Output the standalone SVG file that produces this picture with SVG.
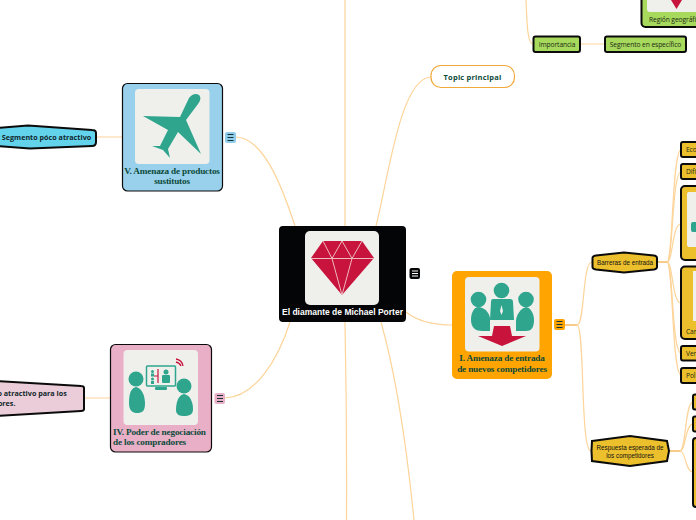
<svg xmlns="http://www.w3.org/2000/svg" width="696" height="520" viewBox="0 0 696 520">
<style>
.c{fill:none;stroke:#fdd49a;stroke-width:1.2}
.st{fill:none;stroke:#f8bb66;stroke-width:1.4}
.b{stroke:#0b0b0b;stroke-width:1.2}
.thick{stroke:#0b0b0b;stroke-width:2}
.im{fill:#eff0ec}
.t{fill:#2fa58e}
.r{fill:#c8143c}
.s{font-family:"Liberation Serif",serif;font-weight:700;font-size:9.200px;fill:#0c4a3a;text-anchor:middle;letter-spacing:-.16px}
.o{font-family:"Open Sans",sans-serif;font-weight:700;font-size:7.200px;fill:#10262a;text-anchor:middle}
.n{font-family:"Open Sans",sans-serif;font-size:6.700px;fill:#1d2a14;text-anchor:middle;letter-spacing:-.1px}
.h{font-family:"Liberation Sans",sans-serif;font-size:6.300px;fill:#111;text-anchor:middle}
.y{fill:#ecbf2d}
.g{fill:#a6d95c}
.m{fill:none;stroke:#17333a;stroke-width:1.100}
</style>
<g id="connectors">
<path class="c" d="M345 0V226M345 322Q347 420 346.500 520"/>
<path class="c" d="M376 226C388 180 400 78 431 77"/>
<path class="c" d="M295 226C280 180 262 138 236 137"/>
<path class="c" d="M290 322C278 360 255 397 225 398"/>
<path class="c" d="M406 312C416 320 430 325 452 325"/>
<path class="c" d="M381 322C396 375 406 440 414 520"/>
<path class="c" d="M526 0C527 20 527 44 533 44"/>
<path class="c" d="M96 137H122M84 398H110M580 44H605"/>
<path class="c" d="M577 325C585 325 582 262 592 262"/>
<path class="c" d="M577 325C585 325 580 451 591 451"/>
<path class="st" d="M565 325H577M657 262H667M669 451H680"/>
<path class="c" d="M667 262C673 262 672 150 681 150"/>
<path class="c" d="M667 262C673 262 672 172 681 172"/>
<path class="c" d="M667 262C673 262 672 224 681 224"/>
<path class="c" d="M667 262C673 262 672 303 681 303"/>
<path class="c" d="M667 262C673 262 672 353 681 353"/>
<path class="c" d="M667 262C673 262 672 375 681 375"/>
<path class="c" d="M680 451C686 451 685 402 693 402"/>
<path class="c" d="M680 451C686 451 685 424 693 424"/>
<path class="c" d="M680 451C686 451 685 472 693 472"/>
</g>
<g id="central">
<rect x="279" y="226" width="127" height="96" rx="4" fill="#040506"/>
<rect class="im" x="305" y="231" width="74" height="74" rx="5"/>
<path class="r" d="M323 241H362L374 258L342 295L311 258Z"/>
<path d="M311 258.500H374M323 241L332 258.500L342 295L352 258.500L362 241M332 258.500L342 241L352 258.500" fill="none" stroke="#eeb9bd" stroke-width="1"/>
<text x="342.500" y="315" font-family="Liberation Sans,sans-serif" font-weight="700" font-size="8.500" fill="#fff" text-anchor="middle">El diamante de Michael Porter</text>
</g>
<g id="central-menu">
<rect x="409.500" y="268" width="10.500" height="11" rx="2" fill="#040506"/>
<path d="M412 271H418M412 273.500H418M412 276H418" fill="none" stroke="#fff" stroke-width="1"/>
</g>
<g id="topic">
<rect x="431" y="65.500" width="83.500" height="22" rx="10" fill="#fff" stroke="#f2a93b" stroke-width="1.200"/>
<text class="o" x="472.500" y="80" style="font-size:7.500px;fill:#0c4a3a;letter-spacing:.2px">Topic principal</text>
</g>
<g id="amenaza-sustitutos">
<rect class="b" x="122.500" y="83.500" width="100" height="107.500" rx="5" fill="#99d1ec"/>
<rect class="im" x="135" y="89" width="74.500" height="75" rx="4"/>
<path class="t" d="M199 95C196 93 192 94 189 98L180 117L143 116L168 130L160 146L152 146L163 150L170 158L168 149L178 132L201 154L186 120L198 104C201 100 201 97 199 95Z"/>
<text class="s" x="172" y="174">V. Amenaza de productos</text>
<text class="s" x="172" y="184">sustitutos</text>
</g>
<g id="menu-blue">
<rect x="225" y="132" width="11" height="11" rx="2" fill="#8fcdea"/>
<path class="m" d="M227.500 134.500H233.500M227.500 137.500H233.500M227.500 140.500H233.500"/>
</g>
<g id="segmento-poco">
<path class="thick" d="M-2 128L28 125.500L92 130Q96 130 96 133V142Q96 146 92 146L30 148.500L-2 146Z" fill="#63d3ec"/>
<text class="o" x="46.500" y="140">Segmento póco atractivo</text>
</g>
<g id="poder-compradores">
<rect class="b" x="110.500" y="344.500" width="101" height="107.500" rx="5" fill="#e8afc6"/>
<rect class="im" x="123.500" y="350" width="74.500" height="75" rx="4"/>
<circle class="t" cx="136" cy="379" r="7.500"/>
<path class="t" d="M136 387C130 388 129 396 129 403C129 411 133 413 137 413C142 413 145 411 145 404C145 396 142 388 136 387Z"/>
<circle class="t" cx="184" cy="386" r="7.500"/>
<path class="t" d="M184 394C178 395 176 403 176 410C176 415 180 416 184 416C189 416 193 415 193 409C193 402 190 395 184 394Z"/>
<rect x="146.500" y="366" width="29" height="20" rx="1" fill="#eff0ec" stroke="#2fa58e" stroke-width="1.500"/>
<rect class="t" x="155" y="387" width="12" height="3" rx="1"/>
<path d="M158 369V383M158 376H154" fill="none" stroke="#c8143c" stroke-width="1.200"/>
<circle class="t" cx="152.500" cy="371.500" r="1.500"/>
<rect class="t" x="151" y="373.500" width="3" height="3"/>
<circle class="t" cx="152.500" cy="379" r="1.500"/>
<rect class="t" x="151" y="381" width="3" height="3"/>
<circle class="t" cx="166" cy="372" r="2.500"/>
<rect class="t" x="162" y="375" width="8" height="8" rx="1"/>
<path d="M176 359Q182 360 183 366M176 362Q180 363 181 366" fill="none" stroke="#c8143c" stroke-width="1.300"/>
<text class="s" x="113" y="435" style="text-anchor:start">IV. Poder de negociación</text>
<text class="s" x="113" y="445" style="text-anchor:start">de los compradores</text>
</g>
<g id="menu-pink">
<rect x="214.500" y="393" width="10.500" height="11" rx="2" fill="#e8afc6"/>
<path class="m" d="M217 395.500H223M217 398.500H223M217 401.500H223"/>
</g>
<g id="segmento-atractivo">
<path class="thick" d="M-3 381L81 386Q84 386 84 388V409Q84 411 81 411L-3 416Z" fill="#ebcdd9"/>
<text class="o" x="-34" y="396" style="text-anchor:start">Segmento atractivo para los</text>
<text class="o" x="-34" y="406" style="text-anchor:start">compradores.</text>
</g>
<g id="amenaza-entrada">
<rect x="452" y="271" width="100" height="108" rx="5" fill="#ffa400"/>
<rect class="im" x="465" y="277" width="74.500" height="74.500" rx="4"/>
<circle class="t" cx="478.500" cy="299.500" r="7.800"/>
<path class="t" d="M478 307C473 308 471 314 471 320C471 328 476 331 482 331H490V318C489 312 484 307 478 307Z"/>
<circle class="t" cx="526" cy="299.500" r="7.800"/>
<path class="t" d="M526 307C521 308 516 315 516 321V331H526C531 331 534 328 534 320C534 314 531 308 526 307Z"/>
<circle class="t" cx="501.500" cy="290.500" r="7.800"/>
<path class="t" d="M493 299H510Q513 299 513 302L514 320H490L491 302Q491 299 493 299Z"/>
<path d="M501.500 305L503 311L501.500 315L500 311Z" fill="#eff0ec"/>
<path class="r" d="M494 326H510L512 336H526L502 346L478 336H492Z"/>
<text class="s" x="502" y="361">I. Amenaza de entrada</text>
<text class="s" x="502" y="372">de nuevos competidores</text>
</g>
<g id="menu-orange">
<rect x="554" y="319" width="11" height="11" rx="2" fill="#ffa400"/>
<path class="m" d="M556.500 321.500H562.500M556.500 324.500H562.500M556.500 327.500H562.500"/>
</g>
<g id="barreras">
<path class="thick" d="M596 255.500L624 252.500L654 255.500Q657 256 657 258V267Q657 269 654 269.500L624 272.500L596 269.500Q592.500 269 592.500 267V258Q592.500 256 596 255.500Z" fill="#ecbf2d"/>
<text class="h" x="625" y="264.500">Barreras de entrada</text>
</g>
<g id="respuesta">
<path class="thick" d="M592 441L630 436L667 441L669 451L667 461L630 466L592 461L591.500 451Z" fill="#ecbf2d"/>
<text class="h" x="630" y="450">Respuesta esperada de</text>
<text class="h" x="630" y="457.500">los competidores</text>
</g>
<g id="n-eco"><rect class="y thick" x="681" y="142" width="20" height="15" rx="2"/><text class="n" x="686" y="152" style="text-anchor:start">Eco</text></g>
<g id="n-dif"><rect class="y thick" x="681" y="164" width="20" height="15" rx="2"/><text class="n" x="686" y="174" style="text-anchor:start">Difi</text></g>
<g id="n-big1"><rect class="y thick" x="681" y="186" width="30" height="74" rx="4"/><rect class="im" x="687" y="192" width="20" height="55" rx="2"/><path class="t" d="M691 224Q691 222 693 222H696V232H693Q691 232 691 230Z"/></g>
<g id="n-can"><rect class="y thick" x="681" y="266.500" width="30" height="72.500" rx="4"/><rect class="im" x="693" y="271" width="10" height="50"/><text class="n" x="686" y="334" style="text-anchor:start">Can</text></g>
<g id="n-ver"><rect class="y thick" x="681" y="346" width="20" height="14.500" rx="2"/><text class="n" x="686" y="356" style="text-anchor:start">Ver</text></g>
<g id="n-pol"><rect class="y thick" x="681" y="368" width="20" height="15" rx="2"/><text class="n" x="686" y="378" style="text-anchor:start">Pol</text></g>
<g id="n-r1"><rect class="y thick" x="693" y="394.500" width="20" height="15" rx="2"/></g>
<g id="n-r2"><rect class="y thick" x="693" y="416.500" width="20" height="15" rx="2"/></g>
<g id="n-r3"><rect class="y thick" x="693" y="438" width="20" height="69" rx="3"/></g>
<g id="importancia"><rect class="g thick" x="533.500" y="36.500" width="46.500" height="15.500" rx="2"/><text class="n" x="557" y="47">Importancia</text></g>
<g id="segmento-especifico"><rect class="g thick" x="605" y="36.500" width="81" height="15.500" rx="2"/><text class="n" x="645.500" y="47">Segmento en específico</text></g>
<g id="region">
<rect class="g thick" x="641.500" y="-40" width="70" height="67" rx="4"/>
<rect class="im" x="647" y="-40" width="55" height="52" rx="3"/>
<path class="r" d="M671 0H682L676.500 9Z"/>
<text class="n" x="649" y="22" style="text-anchor:start">Región geográfi</text>
</g>
</svg>
